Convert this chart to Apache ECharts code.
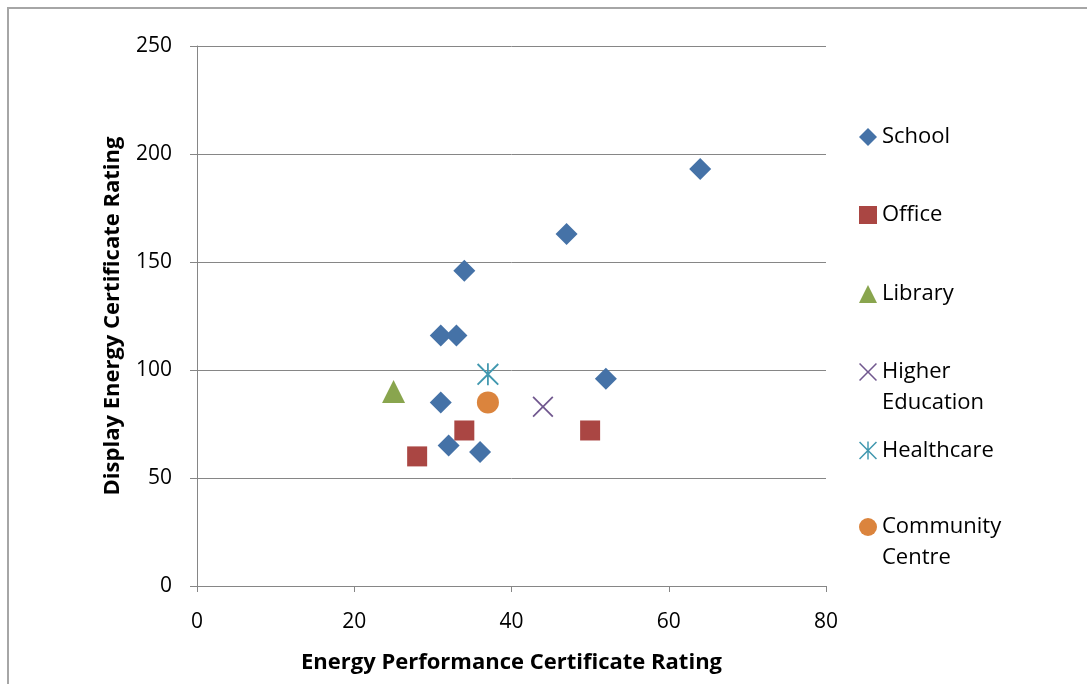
<!DOCTYPE html>
<html>
<head>
<meta charset="utf-8">
<script src="https://cdn.jsdelivr.net/npm/echarts@6/dist/echarts.min.js"></script>
<style>
  html, body { margin: 0; padding: 0; background: #fff; }
  #chart { width: 1087px; height: 684px; }
</style>
</head>
<body>
<div id="chart"></div>
<script>
// EPC rating (x) against DEC rating (y) for each building type
const schoolData = [[64, 193], [47, 163], [34, 146], [31, 116], [33, 116], [52, 96], [31, 85], [32, 65], [36, 62]];
const officeData = [[28, 60], [34, 72], [50, 72]];
const libraryData = [[25, 90]];
const higherEducationData = [[44, 83]];
const healthcareData = [[37, 98]];
const communityCentreData = [[37, 85]];

const buildingTypes = ['School', 'Office', 'Library', 'Higher Education', 'Healthcare', 'Community Centre'];
const legendLabels = ['School', 'Office', 'Library', '\nHigher\nEducation', 'Healthcare', '\nCommunity\nCentre'];

const xAxisTicks = { min: 0, max: 80, interval: 20 };
const yAxisTicks = { min: 0, max: 250, interval: 50 };

const xTitle = 'Energy Performance Certificate Rating';
const yTitle = 'Display Energy Certificate Rating';

// Thin cross and six-point asterisk outlines for the marker shapes
const crossPath = 'path://M0,6L6,0L50,44L94,0L100,6L56,50L100,94L94,100L50,56L6,100L0,94L44,50Z';
const asteriskPath = 'path://M0,6L6,0L50,44L94,0L100,6L56,50L100,94L94,100L50,56L6,100L0,94L44,50Z M46,0L54,0L54,100L46,100Z';

const seriesStyle = [
  { data: schoolData, symbol: 'diamond', size: 22, color: '#4572A7' },
  { data: officeData, symbol: 'rect', size: 20, color: '#AA4643' },
  { data: libraryData, symbol: 'triangle', size: 23, color: '#89A54E' },
  { data: higherEducationData, symbol: crossPath, size: 21, color: '#71588F' },
  { data: healthcareData, symbol: asteriskPath, size: 22, color: '#4198AF' },
  { data: communityCentreData, symbol: 'circle', size: 22, color: '#DB843D' }
];

const tickFont = '"Open Sans", "Noto Sans", sans-serif';
const titleFont = '"Open Sans", "Noto Sans", sans-serif';
const axisGrey = '#868686';

// One legend block per building type so each entry sits at its own height
const legendCentres = [137, 215, 294, 372, 450.5, 527];
const legendLine = 31;
const legends = buildingTypes.map((name, i) => {
  const lines = legendLabels[i].split('\n').length;
  return {
    data: [name],
    orient: 'vertical',
    left: 859,
    top: legendCentres[i] - (lines * legendLine) / 2,
    padding: 0,
    itemWidth: 18,
    itemHeight: 18,
    itemGap: 0,
    selectedMode: false,
    formatter: () => legendLabels[i],
    textStyle: { fontFamily: tickFont, fontSize: 22, color: '#000', lineHeight: legendLine }
  };
});

const chart = echarts.init(document.getElementById('chart'), null, { renderer: 'canvas' });
chart.setOption({
  animation: false,
  backgroundColor: '#fff',
  graphic: [{
    type: 'rect',
    silent: true,
    z: -10,
    shape: { x: 8, y: 8, width: 1200, height: 800 },
    style: { fill: 'none', stroke: '#a6a6a6', lineWidth: 2 }
  }],
  grid: { left: 197, right: 261, top: 46, bottom: 98, containLabel: false },
  legend: legends,
  xAxis: {
    type: 'value',
    min: xAxisTicks.min,
    max: xAxisTicks.max,
    interval: xAxisTicks.interval,
    name: xTitle,
    nameLocation: 'middle',
    nameGap: 66,
    nameTextStyle: { fontFamily: titleFont, fontWeight: 'bold', fontSize: 22, color: '#000' },
    axisLine: { show: true, onZero: false, lineStyle: { color: axisGrey, width: 1 } },
    axisTick: { show: true, inside: false, length: 6, lineStyle: { color: axisGrey } },
    axisLabel: { fontFamily: tickFont, fontSize: 21, color: '#000', margin: 26 },
    splitLine: { show: false }
  },
  yAxis: {
    type: 'value',
    min: yAxisTicks.min,
    max: yAxisTicks.max,
    interval: yAxisTicks.interval,
    name: yTitle,
    nameLocation: 'middle',
    nameRotate: 90,
    nameGap: 73,
    nameTextStyle: { fontFamily: titleFont, fontWeight: 'bold', fontSize: 22, color: '#000' },
    axisLine: { show: true, onZero: false, lineStyle: { color: axisGrey, width: 1 } },
    axisTick: { show: true, inside: false, length: 7, lineStyle: { color: axisGrey } },
    axisLabel: { fontFamily: tickFont, fontSize: 21, color: '#000', margin: 25 },
    splitLine: { show: true, lineStyle: { color: axisGrey, width: 1 } }
  },
  series: buildingTypes.map((name, i) => ({
    name: name,
    type: 'scatter',
    data: seriesStyle[i].data,
    symbol: seriesStyle[i].symbol,
    symbolSize: seriesStyle[i].size,
    itemStyle: { color: seriesStyle[i].color, opacity: 1 },
    emphasis: { disabled: true }
  }))
});
</script>
</body>
</html>
